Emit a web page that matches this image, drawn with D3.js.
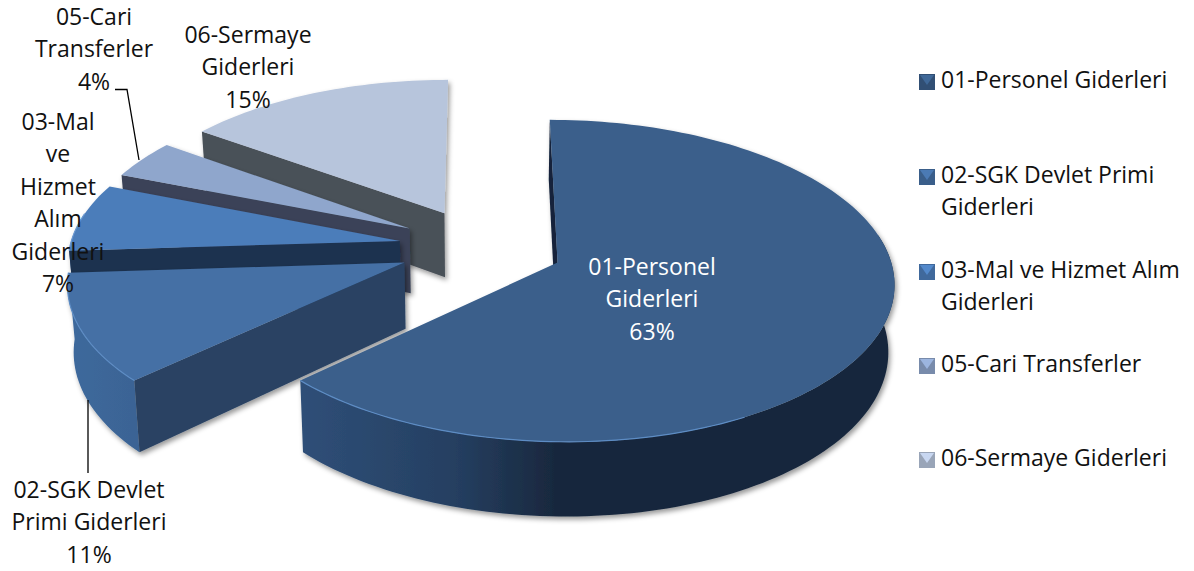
<!DOCTYPE html>
<html lang="tr">
<head>
    <meta charset="UTF-8">
    <title>Giderler</title>
    <script src="https://d3js.org/d3.v7.min.js"></script>
    <style>
        html, body { margin: 0; padding: 0; background: #fff; }
        svg { display: block; }
        text { font-family: "Open Sans", Lato, sans-serif; font-size: 23px; fill: #111; }
        .inside { fill: #fff; }
    </style>
</head>
<body>
    <div id="chart"></div>
    <script>
        const categories = ["01-Personel Giderleri", "02-SGK Devlet Primi Giderleri", "03-Mal ve Hizmet Alım Giderleri", "05-Cari Transferler", "06-Sermaye Giderleri"];
        const values = [63, 11, 7, 4, 15];

        // text of the labels, line by line
        const labelLines = [
            ["01-Personel", "Giderleri", "63%"],
            ["02-SGK Devlet", "Primi Giderleri", "11%"],
            ["03-Mal", "ve", "Hizmet", "Alım", "Giderleri", "7%"],
            ["05-Cari", "Transferler", "4%"],
            ["06-Sermaye", "Giderleri", "15%"]
        ];
        const legendLines = [
            ["01-Personel Giderleri"],
            ["02-SGK Devlet Primi", "Giderleri"],
            ["03-Mal ve Hizmet Alım", "Giderleri"],
            ["05-Cari Transferler"],
            ["06-Sermaye Giderleri"]
        ];

        const topColors = ["#3a5f8b", "#4570a5", "#4c7dba", "#8fa6cc", "#b7c5dc"];
        const cutColors = ["#14233a", "#2a4363", "#1f3350", "#3b4358", "#4a5159"];
        const rimColors = ["#5d8cc4", "#5d8cc4", "#6d9ad2", "#a3b6d6", "#c6d1e4"];
        const wallStops = [
            [["0%", "#2f4f78"], ["45%", "#253f61"], ["75%", "#18273c"], ["100%", "#18273c"]],
            [["0%", "#3f6a9e"], ["100%", "#38608f"]],
            [["0%", "#3d6698"], ["100%", "#3d6698"]],
            [["0%", "#6b7f9f"], ["100%", "#6b7f9f"]],
            [["0%", "#8897ab"], ["100%", "#8897ab"]]
        ];

        const labelX = [652, 89, 58, 94, 248];
        const labelY = [275, 498, 130, 25, 43];
        const lineStep = 32.4;
        const legendY = [88, 183, 278, 372, 466];
        const legendStep = 32;

        const width = 1194, height = 571;
        const cx = 481, cy = 247, R = 330, Ry = 155.4, k = 0.112, explode = 0.25, depth = 65.5;

        const xScale = d3.scaleLinear().domain([-1, 1]).range([cx - R, cx + R]);
        const yScale = d3.scaleLinear().domain([-1, 1]).range([cy - Ry, cy + Ry]);

        // disc coordinates to screen, with a little perspective towards the back
        function project(wx, wy, z) {
            const s = 1 / (1 - k * wy);
            const x = cx + (xScale(wx) - cx) * s * (1 - 0.015 * z);
            const y = cy + (yScale(wy) - cy) * s + depth * z * s;
            return [x, y];
        }

        const svg = d3.select("#chart").append("svg")
            .attr("width", width)
            .attr("height", height);

        const defs = svg.append("defs");

        const shadow = defs.append("filter")
            .attr("id", "shadow")
            .attr("x", "-10%").attr("y", "-10%")
            .attr("width", "120%").attr("height", "125%");
        shadow.append("feDropShadow")
            .attr("dx", 2).attr("dy", 3)
            .attr("stdDeviation", 2.5)
            .attr("flood-color", "#000")
            .attr("flood-opacity", 0.4);

        const slices = d3.pie().sort(null).value(d => d)(values);
        const line = d3.line();

        slices.forEach((d, i) => {
            const mid = (d.startAngle + d.endAngle) / 2;
            d.ox = explode * Math.sin(mid);
            d.oy = -explode * Math.cos(mid);
            const n = Math.ceil((d.endAngle - d.startAngle) * 40);
            d.angles = d3.range(n + 1).map(j => d.startAngle + (d.endAngle - d.startAngle) * j / n);
            d.rim = d.angles.map(a => [d.ox + Math.sin(a), d.oy - Math.cos(a)]);
            d.index = i;
        });

        wallStops.forEach((stops, i) => {
            const grad = defs.append("linearGradient")
                .attr("id", "wall" + i)
                .attr("gradientUnits", "userSpaceOnUse")
                .attr("x1", i === 0 ? xScale(-0.55) : xScale(-1.3))
                .attr("x2", i === 0 ? xScale(0.5) : xScale(-0.9))
                .attr("y1", 0).attr("y2", 0);
            grad.selectAll("stop")
                .data(stops)
                .enter().append("stop")
                .attr("offset", s => s[0])
                .attr("stop-color", s => s[1]);
        });

        // back to front, the big slice last
        const order = [4, 3, 2, 1, 0];

        const groups = svg.selectAll(".slice")
            .data(order.map(i => slices[i]))
            .enter().append("g")
            .attr("class", "slice")
            .attr("filter", "url(#shadow)");

        groups.each(function(d) {
            const g = d3.select(this);
            const apex = [d.ox, d.oy];
            const first = d.rim[0];

            // outer wall, the part of the rim that faces the viewer
            const facing = d.rim.filter((p, j) => Math.cos(d.angles[j]) < 0.2);
            if (facing.length) {
                const outer = facing.map(p => project(p[0], p[1], 0))
                    .concat(facing.slice().reverse().map(p => project(p[0], p[1], 1)));
                g.append("path")
                    .attr("d", line(outer) + "Z")
                    .attr("fill", `url(#wall${d.index})`);
            }

            // only the cut at the start angle can be seen from here
            const cut = [project(apex[0], apex[1], 0), project(first[0], first[1], 0), project(first[0], first[1], 1), project(apex[0], apex[1], 1)];
            g.append("path").attr("d", line(cut) + "Z").attr("fill", cutColors[d.index]);

            const top = [project(apex[0], apex[1], 0)].concat(d.rim.map(p => project(p[0], p[1], 0)));
            g.append("path")
                .attr("d", line(top) + "Z")
                .attr("fill", topColors[d.index]);

            // thin bevel along the front left rim
            const front = d.rim.filter((p, j) => Math.sin(d.angles[j]) < 0.5 && Math.cos(d.angles[j]) < 0.2);
            if (front.length) {
                g.append("path")
                    .attr("d", line(front.map(p => project(p[0], p[1], 0))))
                    .attr("fill", "none")
                    .attr("stroke", rimColors[d.index])
                    .attr("stroke-width", 1.2);
            }
        });

        // leader lines
        svg.append("path")
            .attr("d", line([[115, 89.5], [127, 89.5], [139, 160]]))
            .attr("fill", "none").attr("stroke", "#000").attr("stroke-width", 1.3);
        svg.append("path")
            .attr("d", line([[88, 400], [88, 473]]))
            .attr("fill", "none").attr("stroke", "#000").attr("stroke-width", 1.3);

        // data labels
        labelLines.forEach((lines, i) => {
            const t = svg.append("text")
                .attr("text-anchor", "middle")
                .attr("class", i === 0 ? "inside" : null);
            lines.forEach((s, j) => {
                t.append("tspan")
                    .attr("x", labelX[i])
                    .attr("y", labelY[i] + j * lineStep)
                    .text(s);
            });
        });

        // legend
        const legend = svg.selectAll(".legend")
            .data(categories)
            .enter().append("g")
            .attr("class", "legend");

        legend.append("rect")
            .attr("x", 919)
            .attr("y", (d, i) => legendY[i] - 14)
            .attr("width", 16)
            .attr("height", 16)
            .attr("fill", (d, i) => d3.rgb(topColors[i]).darker(0.5));

        legend.append("path")
            .attr("d", (d, i) => {
                const y = legendY[i] - 13;
                return line([[920, y], [934, y], [927, y + 10]]) + "Z";
            })
            .attr("fill", (d, i) => d3.rgb(topColors[i]).brighter(0.25));

        legend.append("text")
            .attr("x", 941)
            .each(function(d, i) {
                const t = d3.select(this);
                legendLines[i].forEach((s, j) => {
                    t.append("tspan")
                        .attr("x", 941)
                        .attr("y", legendY[i] + j * legendStep)
                        .text(s);
                });
            });
    </script>
</body>
</html>
